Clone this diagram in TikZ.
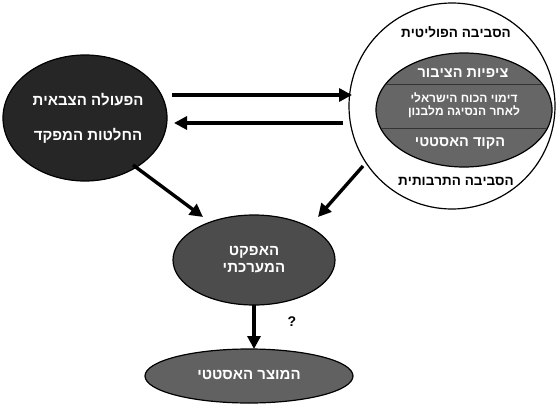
\documentclass[tikz,border=0pt]{standalone}
\usepackage{fontspec}
\setmainfont{Liberation Sans}
\TeXXeTstate=1
\usetikzlibrary{arrows.meta}
\begin{document}
\begin{tikzpicture}[x=1pt,y=-1pt,
  blob/.style={draw=black,line width=1.2pt,fill=#1},
  wtext/.style={text=white,font=\bfseries\fontsize{15}{17}\selectfont,align=center},
  itext/.style={text=white,font=\bfseries\fontsize{14.5}{16}\selectfont,align=center},
  btext/.style={text=black,font=\bfseries\fontsize{13.5}{15}\selectfont},
  divider/.style={draw=black!80,line width=0.6pt},
  conn/.style={line width=3.4pt,-{Triangle[length=13pt,width=13pt]}}]
\useasboundingbox (0,0) rectangle (559,404);
% left ellipse
\draw[blob=black!85] (85,118) ellipse [x radius=82,y radius=63];
\node[wtext] (mil) at (88,100) {\beginR הפעולה הצבאית\endR};
\node[wtext] (cmd) at (88,136) {\beginR החלטות המפקד\endR};
% right circle
\draw[line width=1.2pt,fill=white] (452,106) circle [radius=103];
\draw[blob=black!60] (464,110) ellipse [x radius=88,y radius=57];
\begin{scope}
  \clip (464,110) ellipse [x radius=87,y radius=56];
  \coordinate (dv1a) at (376,84);  \coordinate (dv1b) at (552,84);
  \coordinate (dv2a) at (376,128); \coordinate (dv2b) at (552,128);
  \draw[divider] (dv1a) -- (dv1b);
  \draw[divider] (dv2a) -- (dv2b);
\end{scope}
\node[btext] (pol) at (456,32) {\beginR הסביבה הפוליטית\endR};
\node[btext] (cul) at (456,181) {\beginR הסביבה התרבותית\endR};
\node[itext] (r1) at (463,73) {\beginR ציפיות הציבור\endR};
\node[itext,font=\bfseries\fontsize{12}{13.5}\selectfont] (r2) at (464,105) {\beginR דימוי הכוח הישראלי\endR\\\beginR לאחר הנסיגה מלבנון\endR};
\node[itext] (r3) at (460,143) {\beginR הקוד האסטטי\endR};
% center ellipse
\draw[blob=black!70] (254,260) ellipse [x radius=81,y radius=45];
\node[wtext] (eff) at (254,260) {\beginR האפקט\endR\\\beginR המערכתי\endR};
% bottom ellipse
\draw[blob=black!62] (249,376) ellipse [x radius=104,y radius=27];
\node[wtext] (aes) at (249,375) {\beginR המוצר האסטטי\endR};
% connectors
\coordinate (a1s) at (172,95);  \coordinate (a1e) at (352,95);
\coordinate (a2s) at (343,123); \coordinate (a2e) at (174,123);
\draw[conn] (a1s) -- (a1e);
\draw[conn] (a2s) -- (a2e);
\coordinate (d1s) at (133,165); \coordinate (d1e) at (203,217);
\coordinate (d2s) at (363,166); \coordinate (d2e) at (318,217);
\draw[conn] (d1s) -- (d1e);
\draw[conn] (d2s) -- (d2e);
\coordinate (vs) at (254,305); \coordinate (ve) at (254,349);
\draw[conn] (vs) -- (ve);
\node[font=\bfseries\fontsize{14}{16}\selectfont] (q) at (292,322) {?};
\end{tikzpicture}
\end{document}
